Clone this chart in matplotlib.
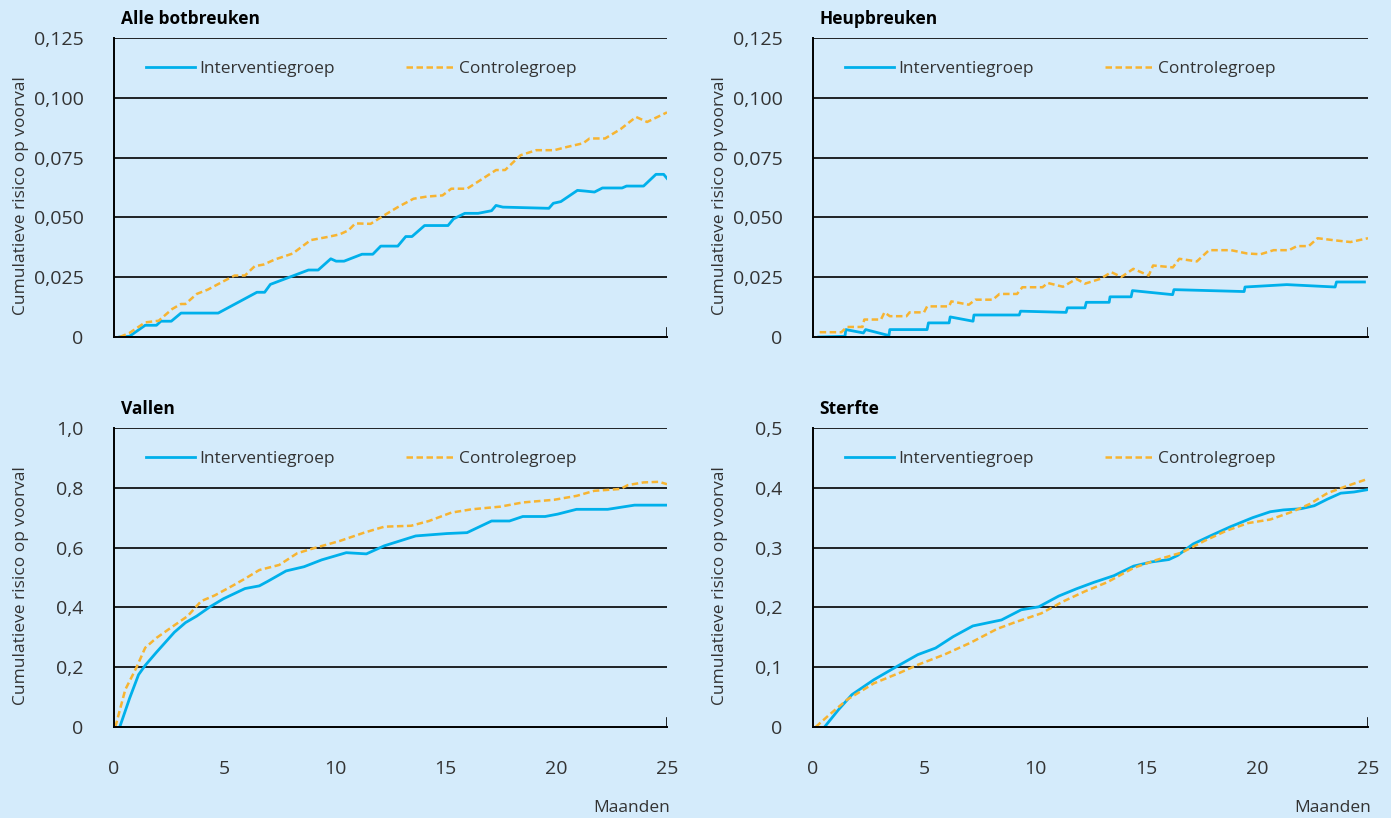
# Cumulatief risico op voorval - vier panelen
import matplotlib.pyplot as plt

# Alle botbreuken
bot_int_x = [0.26, 0.7, 1.41, 1.92, 2.12, 2.59, 3.03, 4.71, 6.46, 6.81, 7.07, 8.79, 9.23, 9.8, 10.04, 10.4,
             11.21, 11.7, 12.06, 12.83, 13.19, 13.47, 14.04, 15.1, 15.35, 15.86, 16.46, 17.07, 17.27, 17.58,
             19.66, 19.86, 20.2, 20.95, 21.31, 21.72, 22.08, 22.97, 23.17, 23.94, 24.5, 24.85, 25.0]
bot_int_y = [0, 0.0003, 0.0049, 0.0049, 0.0066, 0.0066, 0.010, 0.010, 0.0187, 0.0187, 0.022, 0.028, 0.028,
             0.0327, 0.0317, 0.0317, 0.0346, 0.0346, 0.038, 0.038, 0.042, 0.042, 0.0466, 0.0466, 0.0494,
             0.0517, 0.0517, 0.0528, 0.055, 0.0543, 0.0538, 0.0559, 0.0566, 0.0613, 0.061, 0.0606, 0.0623,
             0.0623, 0.0631, 0.0631, 0.068, 0.068, 0.0663]
bot_ctl_x = [0.26, 0.7, 1.41, 2.02, 2.63, 3.03, 3.23, 3.74, 4.24, 4.95, 5.45, 5.92, 6.36, 6.77, 7.27, 8.08,
             8.89, 9.7, 10.2, 10.6, 10.91, 11.6, 12.2, 12.83, 13.54, 14.14, 14.85, 15.25, 15.96, 16.67,
             17.27, 17.68, 18.38, 19.09, 19.9, 20.5, 21.21, 21.5, 22.2, 22.9, 23.6, 24.1, 25.0]
bot_ctl_y = [0, 0.0017, 0.0061, 0.0068, 0.0117, 0.0138, 0.0138, 0.018, 0.0198, 0.0233, 0.0257, 0.0257,
             0.0296, 0.0303, 0.0324, 0.0349, 0.0405, 0.0419, 0.0429, 0.0446, 0.0475, 0.0473, 0.0508, 0.0543,
             0.0578, 0.0587, 0.0592, 0.062, 0.062, 0.0662, 0.0698, 0.0698, 0.076, 0.0781, 0.0781, 0.0795,
             0.081, 0.083, 0.083, 0.0869, 0.092, 0.0899, 0.0939]

# Heupbreuken
heup_int_x = [0.26, 1.44, 1.48, 2.27, 2.37, 3.42, 3.46, 5.14, 5.2, 6.13, 6.18, 7.21, 7.25, 9.29, 9.35, 11.4,
              11.46, 12.25, 12.31, 13.34, 13.38, 14.33, 14.39, 16.2, 16.26, 19.42, 19.46, 21.34, 23.52,
              23.58, 24.84]
heup_int_y = [0, 0.0003, 0.0031, 0.0017, 0.0031, 0.0006, 0.0031, 0.0031, 0.0059, 0.0059, 0.0084, 0.0066,
              0.0092, 0.0092, 0.0108, 0.0103, 0.0122, 0.0122, 0.0145, 0.0145, 0.0168, 0.0168, 0.0194,
              0.0177, 0.0198, 0.019, 0.0209, 0.0219, 0.0209, 0.023, 0.023]
heup_ctl_x = [0.3, 1.28, 1.52, 2.23, 2.31, 3.06, 3.22, 3.46, 4.21, 4.35, 5.0, 5.14, 6.13, 6.23, 7.02, 7.31,
              8.1, 8.4, 9.19, 9.43, 10.34, 10.57, 11.26, 11.86, 12.25, 12.94, 13.44, 13.89, 14.43, 15.12,
              15.32, 16.21, 16.5, 17.29, 17.84, 18.83, 19.56, 20.16, 20.75, 21.44, 21.8, 22.33, 22.73,
              23.42, 24.21, 25.0]
heup_ctl_y = [0.002, 0.002, 0.0042, 0.0042, 0.0073, 0.0073, 0.0103, 0.0087, 0.0087, 0.0103, 0.0103, 0.0128,
              0.0128, 0.0149, 0.0135, 0.0156, 0.0156, 0.018, 0.018, 0.0208, 0.0208, 0.0226, 0.021, 0.0243,
              0.0223, 0.0243, 0.0271, 0.0251, 0.0285, 0.0257, 0.0299, 0.0291, 0.0327, 0.0316, 0.0363,
              0.0363, 0.0349, 0.0346, 0.0363, 0.0363, 0.038, 0.038, 0.0413, 0.0405, 0.0397, 0.0413]

# Vallen
val_int_x = [0.26, 0.71, 1.11, 1.41, 1.92, 2.73, 3.23, 3.74, 4.34, 4.95, 5.92, 6.57, 6.97, 7.78, 8.59, 9.39,
             10.5, 11.41, 12.22, 13.64, 15.05, 15.96, 17.07, 17.88, 18.48, 19.49, 20.06, 20.91, 22.32,
             23.53, 25.0]
val_int_y = [0, 0.097, 0.175, 0.206, 0.25, 0.317, 0.349, 0.371, 0.402, 0.429, 0.463, 0.472, 0.488, 0.522,
             0.536, 0.559, 0.583, 0.579, 0.606, 0.639, 0.647, 0.65, 0.689, 0.689, 0.704, 0.704, 0.712,
             0.728, 0.728, 0.742, 0.742]
val_ctl_x = [0.06, 0.51, 1.01, 1.41, 1.92, 2.63, 3.33, 3.94, 4.55, 5.35, 5.92, 6.57, 7.47, 8.28, 8.99, 10.2,
             11.31, 12.22, 13.43, 14.24, 15.25, 16.16, 17.47, 18.48, 19.9, 20.91, 21.72, 22.89, 23.23,
             23.94, 24.64, 25.0]
val_ctl_y = [0, 0.125, 0.198, 0.265, 0.298, 0.335, 0.371, 0.421, 0.44, 0.472, 0.496, 0.525, 0.542, 0.581,
             0.597, 0.622, 0.65, 0.67, 0.673, 0.689, 0.717, 0.728, 0.737, 0.751, 0.76, 0.773, 0.79, 0.796,
             0.809, 0.818, 0.82, 0.812]

# Sterfte
ster_int_x = [0.52, 1.15, 1.75, 2.74, 3.53, 4.72, 5.52, 6.31, 7.2, 8.49, 9.38, 10.17, 11.07, 11.86, 12.66,
              13.55, 14.44, 15.24, 16.03, 16.43, 17.12, 17.92, 18.81, 19.8, 20.6, 21.19, 21.98, 22.58,
              23.17, 23.77, 24.37, 25.0]
ster_int_y = [0, 0.029, 0.054, 0.079, 0.096, 0.121, 0.132, 0.151, 0.169, 0.179, 0.196, 0.201, 0.219, 0.231,
              0.242, 0.253, 0.269, 0.276, 0.28, 0.287, 0.306, 0.32, 0.335, 0.35, 0.36, 0.363, 0.365, 0.37,
              0.381, 0.391, 0.393, 0.397]
ster_ctl_x = [0.12, 0.75, 1.55, 2.74, 3.93, 4.72, 5.91, 7.1, 8.29, 9.09, 10.28, 11.27, 12.26, 13.25, 14.44,
              15.44, 16.63, 17.62, 18.61, 19.6, 20.6, 21.59, 22.38, 23.17, 23.97, 25.0]
ster_ctl_y = [0, 0.021, 0.046, 0.073, 0.091, 0.104, 0.121, 0.141, 0.164, 0.175, 0.19, 0.21, 0.227, 0.242,
              0.266, 0.279, 0.292, 0.311, 0.328, 0.341, 0.347, 0.36, 0.373, 0.391, 0.402, 0.415]

titels = ['Alle botbreuken', 'Heupbreuken', 'Vallen', 'Sterfte']
yticks_klein = [0, 0.025, 0.05, 0.075, 0.1, 0.125]
ylabels_klein = ['0', '0,025', '0,050', '0,075', '0,100', '0,125']
yticks_val = [0, 0.2, 0.4, 0.6, 0.8, 1.0]
ylabels_val = ['0', '0,2', '0,4', '0,6', '0,8', '1,0']
yticks_ster = [0, 0.1, 0.2, 0.3, 0.4, 0.5]
ylabels_ster = ['0', '0,1', '0,2', '0,3', '0,4', '0,5']
xticks = [0, 5, 10, 15, 20, 25]

BG = '#d4ebfb'
BLAUW = '#00b0eb'
ORANJE = '#f7b431'
TXT = '#333333'

plt.rcParams['font.family'] = ['Open Sans', 'DejaVu Sans']

fig = plt.figure(figsize=(13.91, 8.18), dpi=100, facecolor=BG)

panelen = [
    (titels[0], bot_int_x, bot_int_y, bot_ctl_x, bot_ctl_y, yticks_klein, ylabels_klein, False),
    (titels[1], heup_int_x, heup_int_y, heup_ctl_x, heup_ctl_y, yticks_klein, ylabels_klein, False),
    (titels[2], val_int_x, val_int_y, val_ctl_x, val_ctl_y, yticks_val, ylabels_val, True),
    (titels[3], ster_int_x, ster_int_y, ster_ctl_x, ster_ctl_y, yticks_ster, ylabels_ster, True),
]
posities = [
    [114/1391, 1-337/818, 553/1391, 299/818],
    [813/1391, 1-337/818, 555/1391, 299/818],
    [114/1391, 1-727/818, 553/1391, 299/818],
    [813/1391, 1-727/818, 555/1391, 299/818],
]

for pos, (titel, ix, iy, cx, cy, yt, yl, onder) in zip(posities, panelen):
    ax = fig.add_axes(pos)
    ax.set_facecolor(BG)
    ax.plot(ix, iy, color=BLAUW, lw=2.0, label='Interventiegroep', solid_joinstyle='round')
    ax.plot(cx, cy, color=ORANJE, lw=1.8, linestyle=(0, (2.6, 1.4)), label='Controlegroep')
    ax.set_xlim(0, 25)
    ax.set_ylim(0, yt[-1])
    ax.set_yticks(yt)
    ax.set_yticklabels(yl)
    for v in yt[1:]:
        ax.axhline(v, color='black', lw=1.2, zorder=0)
    ax.axvline(25, ymin=0, ymax=0.03, color='black', lw=1.2)
    for s in ['top', 'right']:
        ax.spines[s].set_visible(False)
    for s in ['left', 'bottom']:
        ax.spines[s].set_linewidth(1.4)
    ax.tick_params(axis='y', length=0, pad=22, labelsize=14, labelcolor=TXT)
    ax.set_xticks(xticks)
    if onder:
        ax.tick_params(axis='x', length=0, pad=24, labelsize=14, labelcolor=TXT)
        ax.text(1.005, -0.272, 'Maanden', transform=ax.transAxes, ha='right', va='center',
                fontsize=12.5, color=TXT)
    else:
        ax.tick_params(axis='x', length=0, labelbottom=False)
    ax.set_ylabel('Cumulatieve risico op voorval', fontsize=12.5, color=TXT)
    ax.yaxis.set_label_coords(-0.153, 0.473)
    ax.text(0.012, 1.063, titel, transform=ax.transAxes, ha='left', va='center',
            fontsize=12.5, fontweight='bold', color='black')
    ax.legend(loc='center left', bbox_to_anchor=(0.03, 0.895), ncol=2, frameon=False,
              fontsize=12.5, handlelength=2.8, handletextpad=0.25, columnspacing=4.1,
              labelcolor=TXT)

fig.savefig('out.png', dpi=100, facecolor=BG)
